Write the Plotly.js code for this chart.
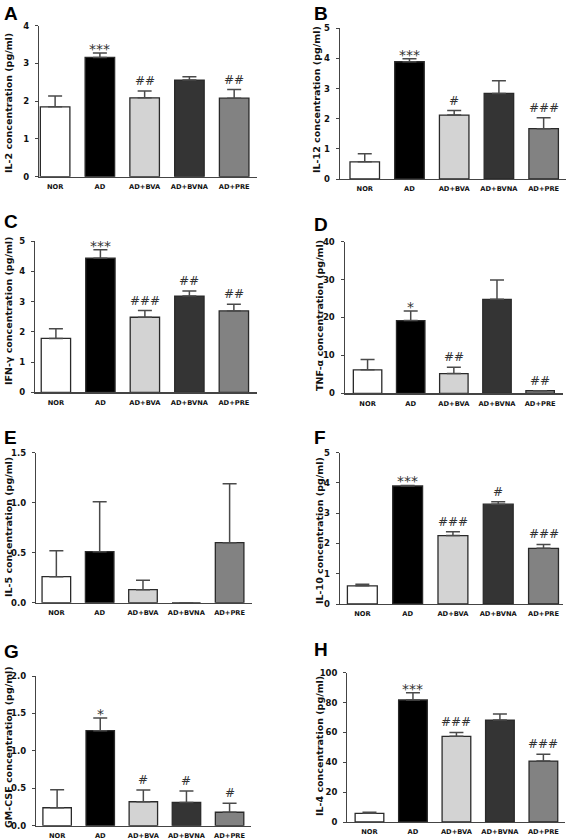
<!DOCTYPE html>
<html>
<head>
<meta charset="utf-8">
<script src="https://cdn.plot.ly/plotly-3.0.1.min.js"></script>
<style>html,body{margin:0;padding:0;background:#fff;}#chart{width:567px;height:840px;}</style>
</head>
<body>
<div id="chart"></div>
<script>
// ---------- data ----------
const groups = ['NOR', 'AD', 'AD+BVA', 'AD+BVNA', 'AD+PRE'];
const groupColors = ['#ffffff', '#000000', '#d3d3d3', '#343434', '#828282'];

const il2Mean = [1.85, 3.16, 2.09, 2.56, 2.08];
const il2Err  = [0.29, 0.12, 0.18, 0.09, 0.23];
const il2Sig  = ['', '***', '##', '', '##'];

const il12Mean = [0.57, 3.89, 2.12, 2.84, 1.67];
const il12Err  = [0.27, 0.10, 0.15, 0.42, 0.36];
const il12Sig  = ['', '***', '#', '', '###'];

const ifngMean = [1.78, 4.43, 2.48, 3.18, 2.69];
const ifngErr  = [0.32, 0.28, 0.22, 0.17, 0.22];
const ifngSig  = ['', '***', '###', '##', '##'];

const tnfaMean = [6.2, 19.2, 5.2, 24.8, 0.7];
const tnfaErr  = [2.7, 2.5, 1.7, 5.1, 0];
const tnfaSig  = ['', '*', '##', '', '##'];

const il5Mean = [0.26, 0.51, 0.13, 0, 0.60];
const il5Err  = [0.26, 0.50, 0.095, 0, 0.59];
const il5Sig  = ['', '', '', '', ''];

const il10Mean = [0.60, 3.90, 2.26, 3.30, 1.84];
const il10Err  = [0.05, 0.02, 0.13, 0.08, 0.13];
const il10Sig  = ['', '***', '###', '#', '###'];

const gmcsfMean = [0.24, 1.27, 0.32, 0.31, 0.18];
const gmcsfErr  = [0.24, 0.17, 0.157, 0.155, 0.12];
const gmcsfSig  = ['', '*', '#', '#', '#'];

const il4Mean = [5.8, 81.7, 57.4, 68.3, 40.8];
const il4Err  = [0.7, 4.9, 2.6, 4.0, 4.5];
const il4Sig  = ['', '***', '###', '', '###'];

const panelLetters = ['A', 'B', 'C', 'D', 'E', 'F', 'G', 'H'];
const yTitles = [
  'IL-2 concentration (pg/ml)', 'IL-12 concentration (pg/ml)',
  'IFN-γ concentration (pg/ml)', 'TNF-α concentration (pg/ml)',
  'IL-5 concentration (pg/ml)', 'IL-10 concentration (pg/ml)',
  'GM-CSF concentration (pg/ml)', 'IL-4 concentration (pg/ml)'
];
const yMax   = [4, 5, 5, 40, 1.5, 5, 2.0, 100];
const yDtick = [1, 1, 1, 10, 0.5, 1, 0.5, 20];
const yFormat = ['', '', '', '', '.1f', '', '.1f', ''];

// ---------- layout geometry (pixels) ----------
const W = 567, H = 840;
const boxes = [ // [x0, x1, yTop, yBottom]
  [39, 257, 25.7, 176.7], [339.7, 566, 28.3, 179],
  [35, 257, 241, 392.3], [344.7, 563, 241.7, 393.3],
  [36, 251.7, 452.7, 602.7], [339.7, 563, 452.7, 604],
  [36, 250.7, 676, 825.7], [347.3, 564.7, 672.7, 822]
];
const xRanges = [[-0.36, 4.51], [-0.56, 4.5], [-0.47, 4.52], [-0.53, 4.53],
                 [-0.47, 4.51], [-0.5, 4.43], [-0.49, 4.49], [-0.51, 4.49]];
const letterPos = [[3, 2], [313, 2], [3, 210], [313, 213], [3, 426], [313, 426], [3, 640], [313, 638]];
const titlePos = [[8, 103], [316, 100], [8, 311], [319, 316], [8, 527], [319, 531], [8, 747], [319, 746]];

const means = [il2Mean, il12Mean, ifngMean, tnfaMean, il5Mean, il10Mean, gmcsfMean, il4Mean];
const errs  = [il2Err, il12Err, ifngErr, tnfaErr, il5Err, il10Err, gmcsfErr, il4Err];
const sigs  = [il2Sig, il12Sig, ifngSig, tnfaSig, il5Sig, il10Sig, gmcsfSig, il4Sig];

const traces = [];
const layout = {
  width: W, height: H,
  margin: {l: 0, r: 0, t: 0, b: 0},
  paper_bgcolor: '#fff', plot_bgcolor: 'rgba(0,0,0,0)',
  showlegend: false,
  bargap: 0.34,
  font: {family: 'DejaVu Sans', color: '#111'},
  annotations: []
};

for (let i = 0; i < 8; i++) {
  const n = i === 0 ? '' : String(i + 1);
  const b = boxes[i];
  traces.push({
    type: 'bar',
    x: [0, 1, 2, 3, 4],
    y: means[i],
    xaxis: 'x' + n, yaxis: 'y' + n,
    marker: {color: groupColors, line: {color: '#2a2a2a', width: 1.3}},
    error_y: {type: 'data', symmetric: false, array: errs[i],
              arrayminus: [0, 0, 0, 0, 0], color: '#4a4a4a', thickness: 1.5, width: 7},
    hoverinfo: 'none'
  });
  layout['xaxis' + n] = {
    domain: [b[0] / W, b[1] / W],
    anchor: 'y' + n,
    range: xRanges[i],
    tickmode: 'array', tickvals: [0, 1, 2, 3, 4], ticktext: groups.map(g => '<b>' + g + '</b>'),
    ticks: '', showgrid: false, zeroline: false,
    showline: true, linecolor: '#444', linewidth: 1.2,
    tickfont: {family: 'DejaVu Sans', size: 6.7, weight: 'bold', color: '#111'},
    ticklabelstandoff: 3,
    fixedrange: true
  };
  layout['yaxis' + n] = {
    domain: [1 - b[3] / H, 1 - b[2] / H],
    anchor: 'x' + n,
    range: [0, yMax[i]],
    tick0: 0, dtick: yDtick[i], tickformat: yFormat[i],
    ticks: 'outside', ticklen: 3, tickwidth: 1, tickcolor: '#444',
    showgrid: false, zeroline: false,
    showline: true, linecolor: '#444', linewidth: 1.2,
    tickfont: {family: 'DejaVu Sans', size: 8.5, weight: 'bold', color: '#111'},
    ticklabelstandoff: 4,
    fixedrange: true
  };
  // panel letter
  layout.annotations.push({
    xref: 'paper', yref: 'paper', x: letterPos[i][0] / W, y: 1 - letterPos[i][1] / H,
    xanchor: 'left', yanchor: 'top', showarrow: false, borderpad: 0,
    text: '<b>' + panelLetters[i] + '</b>',
    font: {family: 'Liberation Sans', size: 19, weight: 'bold', color: '#000'}
  });
  // y title
  layout.annotations.push({
    xref: 'paper', yref: 'paper', x: titlePos[i][0] / W, y: 1 - titlePos[i][1] / H,
    xanchor: 'center', yanchor: 'middle', showarrow: false, textangle: -90, borderpad: 0,
    text: '<b>' + yTitles[i] + '</b>',
    font: {family: 'DejaVu Sans', size: 9.5, weight: 'bold', color: '#111'}
  });
  // significance marks
  for (let k = 0; k < 5; k++) {
    const s = sigs[i][k];
    if (!s) continue;
    const isStar = s.indexOf('*') >= 0;
    layout.annotations.push({
      xref: 'x' + n, yref: 'y' + n, x: k, y: means[i][k] + errs[i][k],
      xanchor: 'center', yanchor: 'bottom', showarrow: false,
      yshift: isStar ? -6 : 1,
      text: s,
      font: {family: 'DejaVu Sans', size: isStar ? 14 : 12, color: '#333'}
    });
  }
}

Plotly.newPlot('chart', traces, layout, {staticPlot: true, displayModeBar: false});
</script>
</body>
</html>
